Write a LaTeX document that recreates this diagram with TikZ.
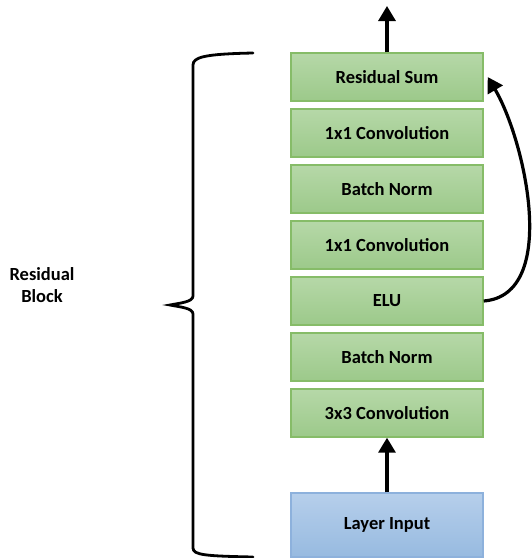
\documentclass[tikz,border=0pt]{standalone}
\usepackage{fontspec}
\setmainfont{Carlito}
\usetikzlibrary{arrows.meta}
\definecolor{gtop}{HTML}{B6D8A8}
\definecolor{gbot}{HTML}{9CC98A}
\definecolor{gline}{HTML}{86BC68}
\definecolor{btop}{HTML}{B6CFEB}
\definecolor{bbot}{HTML}{97BAE0}
\definecolor{bline}{HTML}{8DB1DC}
\tikzset{
  layerbox/.style={draw=gline, line width=1.4pt, top color=gtop, bottom color=gbot,
    minimum width=192pt, minimum height=48pt, inner sep=0pt,
    font=\fontsize{18.5}{22}\selectfont\bfseries},
  inputbox/.style={layerbox, draw=bline, top color=btop, bottom color=bbot, minimum height=64pt},
  flow/.style={line width=3.2pt, -{Triangle[length=15pt,width=17pt]}},
  bracepath/.style={line width=2.8pt, line cap=round},
  lbl/.style={font=\fontsize{18.5}{22}\selectfont\bfseries, align=center}
}
\begin{document}
\begin{tikzpicture}[x=1pt,y=-1pt]
\useasboundingbox (0,0) rectangle (532,558);
\node[layerbox] (rs) at (387,77) {Residual Sum};
\node[layerbox] (c1a) at (387,133) {1x1 Convolution};
\node[layerbox] (bn1) at (387,189) {Batch Norm};
\node[layerbox] (c1b) at (387,245) {1x1 Convolution};
\node[layerbox] (elu) at (387,301) {ELU};
\node[layerbox] (bn2) at (387,357) {Batch Norm};
\node[layerbox] (c3) at (387,413) {3x3 Convolution};
\node[inputbox] (inp) at (387,525) {Layer Input};
\coordinate (out) at (387,6);
\draw[flow] (rs.north) -- (out);
\draw[flow] (inp.north) -- (c3.south);
\draw[flow] (elu.east) .. controls (560,295) and (525,140) .. ([xshift=4pt]rs.east);
\draw[bracepath] (253,53) .. controls (205,54) and (193,57) .. (193,65) -- (193,296)
  .. controls (193,302) and (180,303) .. (170,305)
  .. controls (180,307) and (193,308) .. (193,314) -- (193,548)
  .. controls (193,555) and (205,556) .. (253,557);
\node[lbl] (blk) at (42,285) {Residual\\Block};
\end{tikzpicture}
\end{document}
